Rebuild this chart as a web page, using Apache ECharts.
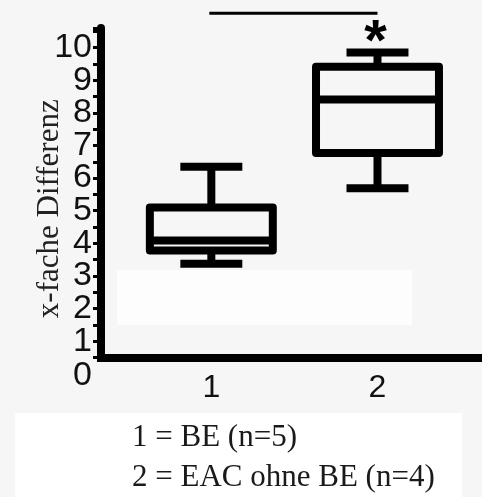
<!DOCTYPE html>
<html>
<head>
<meta charset="utf-8">
<script src="https://cdn.jsdelivr.net/npm/echarts@6/dist/echarts.min.js"></script>
<style>
  html, body { margin: 0; padding: 0; background: #f6f6f6; }
  #main { width: 482px; height: 497px; }
</style>
</head>
<body>
<div id="main"></div>
<script>
// Werte
var groups = ['1', '2'];
var positions = [1, 2];
var whiskerLow = [3.37, 5.69];
var q1 = [3.78, 6.77];
var median = [4.09, 8.41];
var q3 = [5.10, 9.41];
var whiskerHigh = [6.35, 9.85];
var yTickLabels = [0, 1, 2, 3, 4, 5, 6, 7, 8, 9, 10];
var legendLines = ['1 = BE (n=5)', '2 = EAC ohne BE (n=4)'];
var sigPair = [1, 2];
var sigLevel = 11.05;
var starLevel = 10.48;

var BOX_WIDTH = 0.74;
var CAP_WIDTH = 0.373;

var myChart = echarts.init(document.getElementById('main'));

var boxData = positions.map(function (p, i) {
    return [p, whiskerLow[i], q1[i], median[i], q3[i], whiskerHigh[i]];
});

var renderBox = function (params, api) {
    var x = api.value(0);
    var lo = api.coord([x, api.value(1)]);
    var b1 = api.coord([x, api.value(2)]);
    var md = api.coord([x, api.value(3)]);
    var b3 = api.coord([x, api.value(4)]);
    var hi = api.coord([x, api.value(5)]);
    var boxW = api.size([BOX_WIDTH, 0])[0];
    var capW = api.size([CAP_WIDTH, 0])[0];
    var cx = lo[0];
    var style = { stroke: '#000', lineWidth: 8, fill: 'none', lineJoin: 'round' };
    var line = function (x1, y1, x2, y2) {
        return { type: 'line', shape: { x1: x1, y1: y1, x2: x2, y2: y2 }, style: style };
    };
    return {
        type: 'group',
        children: [
            line(cx, hi[1], cx, b3[1]),
            line(cx, b1[1], cx, lo[1]),
            line(cx - capW / 2, hi[1], cx + capW / 2, hi[1]),
            line(cx - capW / 2, lo[1], cx + capW / 2, lo[1]),
            { type: 'rect', shape: { x: cx - boxW / 2, y: b3[1], width: boxW, height: b1[1] - b3[1] }, style: style },
            line(cx - boxW / 2, md[1], cx + boxW / 2, md[1])
        ]
    };
};

var option = {
    backgroundColor: '#f6f6f6',
    animation: false,
    title: {
        text: legendLines.join('\n'),
        left: 132,
        top: 418,
        padding: 0,
        textStyle: {
            fontFamily: 'Liberation Serif',
            fontWeight: 'normal',
            fontSize: 31,
            lineHeight: 40,
            color: '#1a1a1a'
        }
    },
    grid: {
        left: 101,
        right: 0,
        top: 28,
        bottom: 139.5,
        outerBoundsMode: 'none'
    },
    xAxis: {
        type: 'value',
        min: 0.336,
        max: 2.629,
        axisLine: { onZero: false, lineStyle: { color: '#000', width: 8, cap: 'square' } },
        axisTick: { show: false },
        splitLine: { show: false },
        axisLabel: {
            customValues: positions,
            formatter: function (v) { return groups[positions.indexOf(v)]; },
            fontFamily: 'Liberation Sans',
            fontSize: 32,
            color: '#111',
            margin: 15
        }
    },
    yAxis: {
        type: 'value',
        min: 0.5,
        max: 10.6,
        interval: 0.5,
        name: 'x-fache Differenz',
        nameLocation: 'middle',
        nameRotate: 90,
        nameGap: 36,
        nameMoveOverlap: false,
        nameTextStyle: {
            fontFamily: 'Liberation Serif',
            fontSize: 31,
            color: '#222',
            padding: [0, 32, 0, 0]
        },
        axisLine: { show: true, lineStyle: { color: '#000', width: 8 } },
        axisTick: { show: true, length: 8, lineStyle: { color: '#000', width: 3 } },
        splitLine: { show: false },
        axisLabel: {
            interval: 0,
            showMinLabel: true,
            showMaxLabel: true,
            margin: 9,
            fontFamily: 'Liberation Sans',
            fontSize: 34,
            color: '#111',
            formatter: function (v) {
                if (Math.abs(v - 0.5) < 1e-6) return '{z|' + yTickLabels[0] + '}';
                var r = Math.round(v);
                if (Math.abs(v - r) < 1e-6 && yTickLabels.indexOf(r) >= 0) return String(r);
                return '';
            },
            rich: {
                z: { fontFamily: 'Liberation Sans', fontSize: 34, color: '#111', padding: [36, 0, 0, 0] }
            }
        }
    },
    series: [
        {
            type: 'custom',
            renderItem: renderBox,
            data: boxData,
            encode: { x: 0, y: [1, 2, 3, 4, 5] },
            z: 3
        }
    ]
};

myChart.setOption(option);

// Signifikanzbalken und Stern über die Achsen umgerechnet
var pA = myChart.convertToPixel({ gridIndex: 0 }, [sigPair[0], sigLevel]);
var pB = myChart.convertToPixel({ gridIndex: 0 }, [sigPair[1], sigLevel]);
var pStar = myChart.convertToPixel({ gridIndex: 0 }, [sigPair[1], starLevel]);

myChart.setOption({
    graphic: [
        { type: 'rect', z: -10, shape: { x: 15, y: 413, width: 447, height: 84 }, style: { fill: '#ffffff' } },
        { type: 'rect', z: -10, shape: { x: 117, y: 270, width: 295, height: 55 }, style: { fill: '#fdfdfd' } },
        { type: 'line', shape: { x1: pA[0] - 2, y1: pA[1], x2: pB[0], y2: pB[1] }, style: { stroke: '#000', lineWidth: 3 } },
        {
            type: 'text',
            x: pStar[0] - 2,
            y: pStar[1] + 12,
            style: {
                text: '*',
                font: 'bold 58px "Liberation Sans"',
                fill: '#000',
                textAlign: 'center',
                textVerticalAlign: 'middle'
            }
        }
    ]
});
</script>
</body>
</html>
